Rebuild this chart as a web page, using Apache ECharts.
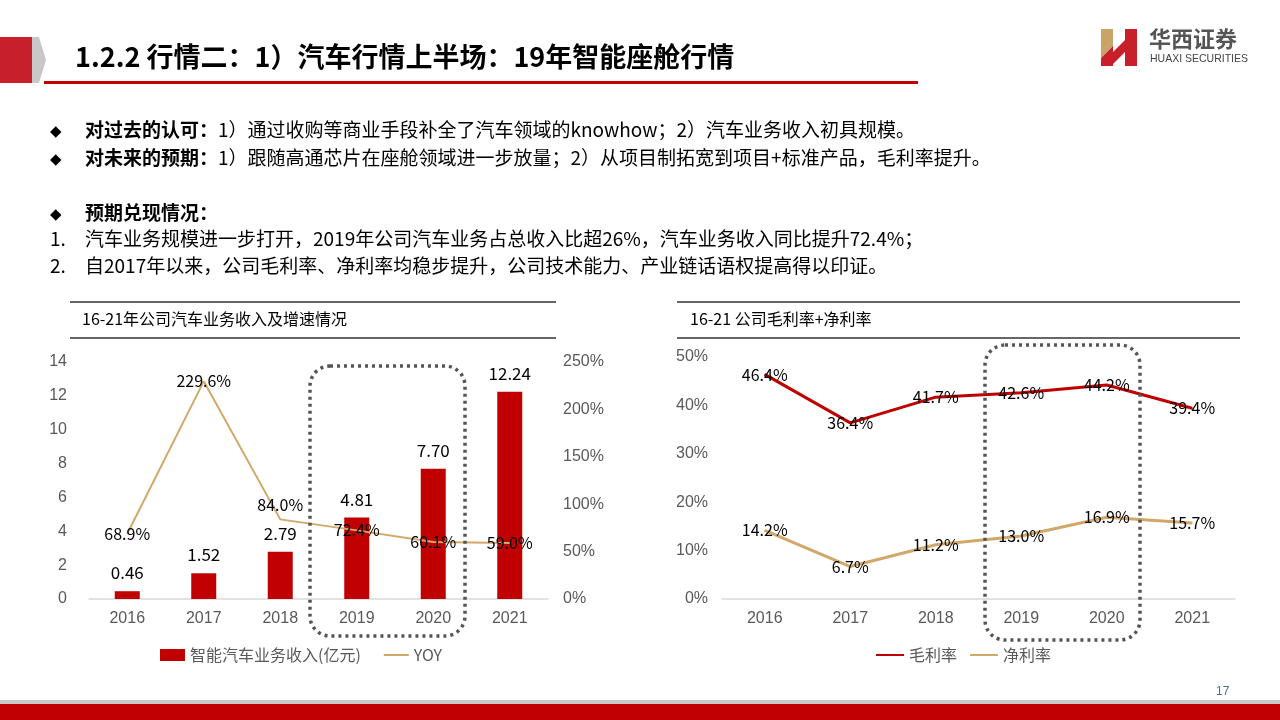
<!DOCTYPE html>
<html><head><meta charset="utf-8">
<script src="https://cdn.jsdelivr.net/npm/echarts@6/dist/echarts.min.js"></script>
<style>html,body{margin:0;padding:0;background:#fff}#c{width:1280px;height:720px}</style>
</head><body><div id="c"></div>
<script>
// ---- data ----
const years = ['2016','2017','2018','2019','2020','2021'];
const revenue = [0.46, 1.52, 2.79, 4.81, 7.70, 12.24];
const yoy = [68.9, 229.6, 84.0, 72.4, 60.1, 59.0];
const grossMargin = [46.4, 36.4, 41.7, 42.6, 44.2, 39.4];
const netMargin = [14.2, 6.7, 11.2, 13.0, 16.9, 15.7];
const leftTicks = [0, 14, 2];
const leftPctTicks = [0, 250, 50];
const rightPctTicks = [0, 50, 10];

const RED = '#C00000', TAN = '#D2A86A', GRAY = '#595959';
const CJK = '"Noto Sans CJK SC", "Noto Sans", sans-serif';
const NUM = '"Liberation Sans", "Noto Sans", sans-serif';

const chart = echarts.init(document.getElementById('c'), null, {renderer: 'canvas'});

const axisLbl = {color: GRAY, fontSize: 16, fontFamily: NUM};
const dataLbl = {color: '#000', fontSize: 16, fontFamily: CJK};

function bodyLine(x, y, bold, rest) {
  return {type: 'text', left: x, top: y, style: {
    text: (bold ? '{b|' + bold + '}' : '') + '{n|' + rest + '}',
    rich: {b: {fontWeight: 'bold', fontSize: 19, fontFamily: CJK, fill: '#000'},
           n: {fontSize: 19, fontFamily: CJK, fill: '#000'}}}};
}

const graphics = [
  // header
  {type: 'polygon', shape: {points: [[0,37],[32,37],[39,60],[32,83],[0,83]]}, style: {fill: '#C8202A'}},
  {type: 'polygon', shape: {points: [[32,37],[39,37],[46,60],[39,83],[32,83]]}, style: {fill: '#C8C8C8'}},
  {type: 'text', left: 75, top: 43, style: {text: '1.2.2 行情二：1）汽车行情上半场：19年智能座舱行情', fontSize: 27, fontWeight: 'bold', fontFamily: CJK, fill: '#000'}},
  {type: 'rect', shape: {x: 44, y: 81, width: 874, height: 3}, style: {fill: RED}},
  // logo
  {type: 'polygon', shape: {points: [[1101,29],[1113,29],[1113,46],[1101,58]]}, style: {fill: '#C8A468'}},
  {type: 'polygon', shape: {points: [[1101,58],[1113,46],[1113,52],[1125,40],[1125,29],[1137,29],[1137,66],[1125,66],[1125,52],[1113,64],[1113,66],[1101,66]]}, style: {fill: '#C8202A'}},
  {type: 'text', left: 1149, top: 28, style: {text: '华西证券', fontSize: 22, fontWeight: 'bold', fontFamily: CJK, fill: '#555'}},
  {type: 'text', left: 1150, top: 54, style: {text: 'HUAXI SECURITIES', fontSize: 10.5, fontFamily: NUM, fill: '#444'}},
  // body text
  {type: 'text', left: 50, top: 124, style: {text: '◆', fontSize: 15, fill: '#000'}},
  bodyLine(85, 120, '对过去的认可：', '1）通过收购等商业手段补全了汽车领域的knowhow；2）汽车业务收入初具规模。'),
  {type: 'text', left: 50, top: 152, style: {text: '◆', fontSize: 15, fill: '#000'}},
  bodyLine(85, 148, '对未来的预期：', '1）跟随高通芯片在座舱领域进一步放量；2）从项目制拓宽到项目+标准产品，毛利率提升。'),
  {type: 'text', left: 50, top: 207, style: {text: '◆', fontSize: 15, fill: '#000'}},
  bodyLine(85, 203, '预期兑现情况：', ''),
  {type: 'text', left: 50, top: 229, style: {text: '1.', fontSize: 19, fontFamily: CJK, fill: '#000'}},
  bodyLine(85, 229, '', '汽车业务规模进一步打开，2019年公司汽车业务占总收入比超26%，汽车业务收入同比提升72.4%；'),
  {type: 'text', left: 50, top: 256, style: {text: '2.', fontSize: 19, fontFamily: CJK, fill: '#000'}},
  bodyLine(85, 256, '', '自2017年以来，公司毛利率、净利率均稳步提升，公司技术能力、产业链话语权提高得以印证。'),
  // chart title boxes
  {type: 'line', shape: {x1: 70, y1: 302, x2: 556, y2: 302}, style: {stroke: '#333', lineWidth: 1.5}},
  {type: 'line', shape: {x1: 70, y1: 338, x2: 556, y2: 338}, style: {stroke: '#333', lineWidth: 1.5}},
  {type: 'text', left: 82, top: 311, style: {text: '16-21年公司汽车业务收入及增速情况', fontSize: 16, fontFamily: CJK, fill: '#000'}},
  {type: 'line', shape: {x1: 677, y1: 302, x2: 1240, y2: 302}, style: {stroke: '#333', lineWidth: 1.5}},
  {type: 'line', shape: {x1: 677, y1: 338, x2: 1240, y2: 338}, style: {stroke: '#333', lineWidth: 1.5}},
  {type: 'text', left: 690, top: 311, style: {text: '16-21 公司毛利率+净利率', fontSize: 16, fontFamily: CJK, fill: '#000'}},
  // dotted highlight boxes
  {type: 'rect', z: 100, shape: {x: 310, y: 366, width: 155, height: 270, r: 20}, style: {fill: 'none', stroke: '#555', lineWidth: 3.5, lineDash: [3, 4]}},
  {type: 'rect', z: 100, shape: {x: 985, y: 345, width: 155, height: 295, r: 20}, style: {fill: 'none', stroke: '#555', lineWidth: 3.5, lineDash: [3, 4]}},
  // footer
  {type: 'rect', shape: {x: 0, y: 700, width: 1280, height: 4}, style: {fill: '#C8C8C8'}},
  {type: 'rect', shape: {x: 0, y: 704, width: 1280, height: 16}, style: {fill: RED}},
  {type: 'text', left: 1216, top: 686, style: {text: '17', fontSize: 12, fontFamily: NUM, fill: '#4a6a9a'}}
];

const pctFmt = p => p.value.toFixed(1) + '%';
function lineSeries(name, data, color, width, yAxisIndex, xAxisIndex) {
  return {name, type: 'line', xAxisIndex, yAxisIndex, symbol: 'circle', symbolSize: 1, showSymbol: true,
    lineStyle: {color, width}, itemStyle: {color}, z: 5, data,
    label: Object.assign({show: true, position: 'inside', formatter: pctFmt}, dataLbl)};
}

const option = {
  backgroundColor: '#fff',
  animation: false,
  graphic: graphics,
  grid: [
    {left: 89, right: 1280 - 548, top: 362, bottom: 720 - 599, containLabel: false},
    {left: 722, right: 1280 - 1235, top: 357, bottom: 720 - 599, containLabel: false}
  ],
  legend: [
    {left: 155, top: 642, itemWidth: 25, itemHeight: 12, itemGap: 22,
     textStyle: {color: GRAY, fontSize: 16, fontFamily: CJK},
     data: [{name: '智能汽车业务收入(亿元)', icon: 'rect'}, {name: 'YOY', itemStyle: {opacity: 0}}]},
    {left: 870, top: 642, itemWidth: 28, itemHeight: 12, itemGap: 12,
     textStyle: {color: GRAY, fontSize: 16, fontFamily: CJK},
     data: [{name: '毛利率', itemStyle: {opacity: 0}}, {name: '净利率', itemStyle: {opacity: 0}}]}
  ],
  xAxis: [
    {type: 'category', gridIndex: 0, data: years, axisTick: {show: false},
     axisLine: {lineStyle: {color: '#D9D9D9', width: 1.5}}, axisLabel: Object.assign({margin: 12}, axisLbl)},
    {type: 'category', gridIndex: 1, data: years, axisTick: {show: false},
     axisLine: {lineStyle: {color: '#D9D9D9', width: 1.5}}, axisLabel: Object.assign({margin: 12}, axisLbl)}
  ],
  yAxis: [
    {type: 'value', gridIndex: 0, min: leftTicks[0], max: leftTicks[1], interval: leftTicks[2],
     splitLine: {show: false}, axisLine: {show: false}, axisTick: {show: false},
     axisLabel: Object.assign({margin: 22}, axisLbl)},
    {type: 'value', gridIndex: 0, position: 'right', min: leftPctTicks[0], max: leftPctTicks[1], interval: leftPctTicks[2],
     splitLine: {show: false}, axisLine: {show: false}, axisTick: {show: false},
     axisLabel: Object.assign({margin: 15, formatter: '{value}%'}, axisLbl)},
    {type: 'value', gridIndex: 1, min: rightPctTicks[0], max: rightPctTicks[1], interval: rightPctTicks[2],
     splitLine: {show: false}, axisLine: {show: false}, axisTick: {show: false},
     axisLabel: Object.assign({margin: 14, formatter: '{value}%'}, axisLbl)}
  ],
  series: [
    {name: '智能汽车业务收入(亿元)', type: 'bar', xAxisIndex: 0, yAxisIndex: 0, barWidth: 25,
     itemStyle: {color: RED}, data: revenue,
     label: Object.assign({show: true, position: 'top', distance: 10, formatter: p => p.value.toFixed(2)}, dataLbl, {fontSize: 17})},
    lineSeries('YOY', yoy.map((v, i) => i === 2 ? {value: v, label: {position: 'top', distance: 6}} : v), TAN, 2, 1, 0),
    lineSeries('毛利率', grossMargin, RED, 3, 2, 1),
    lineSeries('净利率', netMargin, TAN, 3, 2, 1)
  ]
};
chart.setOption(option);
</script></body></html>
